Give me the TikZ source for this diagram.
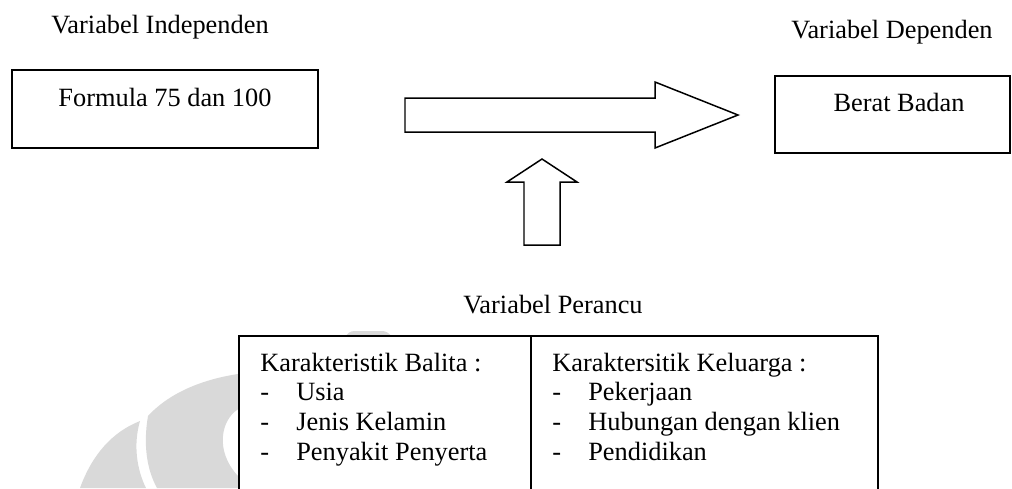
\documentclass[tikz,border=0pt]{standalone}
\usepackage{fontspec}
\setmainfont{Liberation Serif}
\usepackage{tikz}
\usetikzlibrary{positioning}
\tikzstyle{box1} = [rectangle, draw=black, fill=white, line width=1.1pt, inner sep=0pt, outer sep=0pt]
\tikzstyle{label1} = [inner sep=0pt, anchor=base]
\tikzstyle{list1} = [inner sep=0pt, anchor=base west]
\tikzstyle{bigarrow} = [draw=black, fill=white, line width=0.85pt, line join=miter]
\tikzstyle{watermark} = [fill=black!15, draw=none]

\begin{document}
\begin{tikzpicture}[x=0.02cm, y=-0.02cm, font=\fontsize{15}{17}\selectfont]
			\path[use as bounding box, clip] (0,0) rectangle (1012,488);
			\fill[watermark] (80,488) .. controls (92,455) and (112,432) .. (140,421) .. controls (133,445) and (137,470) .. (146,488) -- cycle;
			\fill[watermark] (157,488) .. controls (147,470) and (143,445) .. (148,416) .. controls (170,392) and (205,378) .. (245,373) -- (245,405) -- (237,410) .. controls (222,420) and (214,450) .. (238,476) -- (245,480) -- (245,488) -- cycle;
			\fill[watermark] (345,337) .. controls (348,333) and (350,331) .. (355,331) -- (382,331) .. controls (386,331) and (389,333) .. (392,337) -- cycle;
			\node[label1](indeptitle) at (160,33){Variabel Independen};
			\node[box1, minimum width=6.12cm, minimum height=1.56cm](indepbox) at (165,109){};
			\node[label1](formula) at ([yshift=-0.72cm]indepbox.north){Formula 75 dan 100};
			\node[label1](deptitle) at (892,38){Variabel Dependen};
			\node[box1, minimum width=4.7cm, minimum height=1.54cm](depbox) at (892.5,114.5){};
			\node[label1](berat) at ([xshift=0.13cm, yshift=-0.7cm]depbox.north){Berat Badan};
			\draw[bigarrow] (405,98) -- (655,98) -- (655,82) -- (738,115) -- (655,148) -- (655,132) -- (405,132) -- cycle;
			\draw[bigarrow] (524,245) -- (524,182) -- (507,182) -- (542,159) -- (577,182) -- (560,182) -- (560,245) -- cycle;
			\node[label1](perancu) at (553,313){Variabel Perancu};
			\node[box1, anchor=north west, minimum width=5.84cm, minimum height=3.4cm](balita) at (239,336){};
			\node[box1, minimum width=6.94cm, minimum height=3.4cm, right=0cm of balita](keluarga){};
			\node[list1](balitalist) at (260,371){\begin{tabular}[t]{@{}p{0.72cm}@{}l@{}}
				\multicolumn{2}{@{}l@{}}{Karakteristik Balita :}\\
				- & Usia\\
				- & Jenis Kelamin\\
				- & Penyakit Penyerta
			\end{tabular}};
			\node[list1](keluargalist) at (552,371){\begin{tabular}[t]{@{}p{0.72cm}@{}l@{}}
				\multicolumn{2}{@{}l@{}}{Karaktersitik Keluarga :}\\
				- & Pekerjaan\\
				- & Hubungan dengan klien\\
				- & Pendidikan
			\end{tabular}};
		\end{tikzpicture}
\end{document}
